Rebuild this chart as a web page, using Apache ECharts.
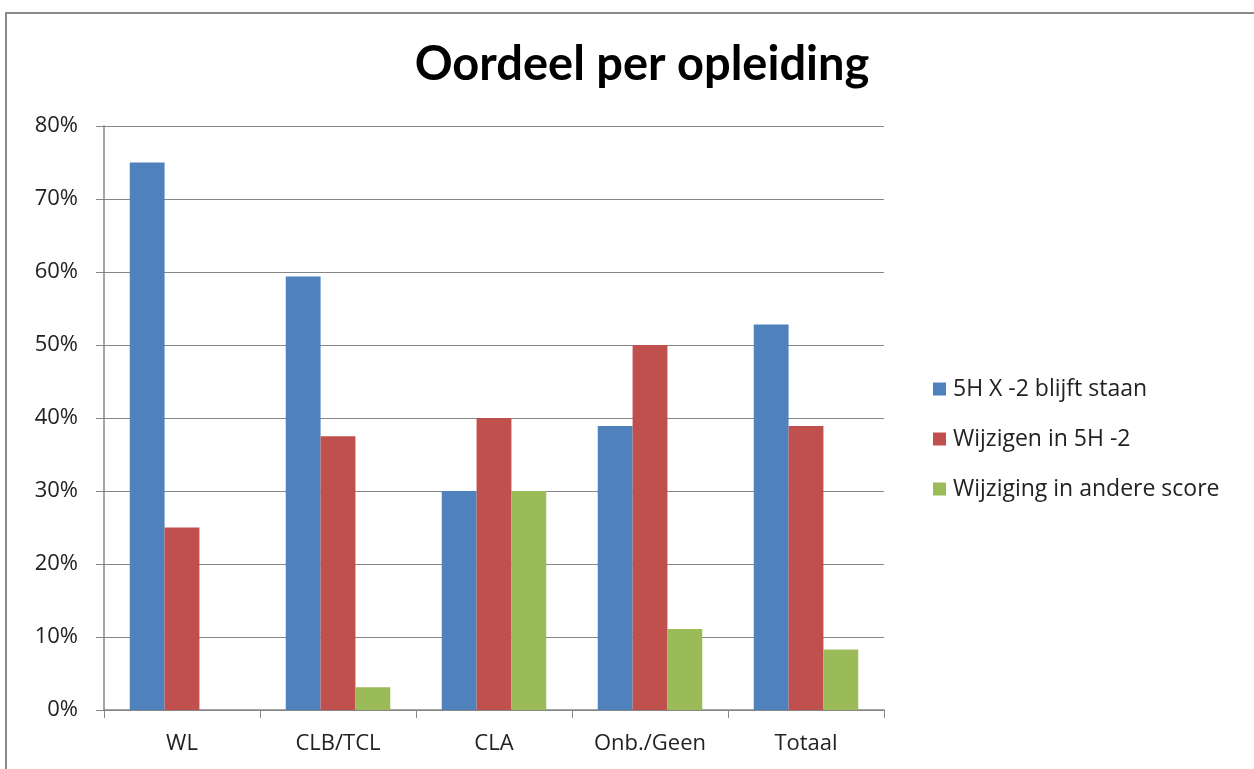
<!DOCTYPE html>
<html style="height: 100%">
<head>
    <meta charset="utf-8">
    <title>Oordeel per opleiding</title>
    <script src="https://cdn.jsdelivr.net/npm/echarts@6/dist/echarts.min.js"></script>
    <style>
        html, body { margin: 0; padding: 0; background: #fff; overflow: hidden; }
        #frame {
            position: absolute; left: 5px; top: 12px; width: 1300px; height: 800px;
            border-top: 2px solid #8a8a8a; border-left: 2px solid #8a8a8a;
        }
        #container { position: absolute; left: 0; top: 0; width: 1254px; height: 769px; }
    </style>
</head>
<body>
<div id="frame"></div>
<div id="container"></div>
<script>
    // categories and series values (percent)
    var categories = ['WL', 'CLB/TCL', 'CLA', 'Onb./Geen', 'Totaal'];
    var seriesNames = ['5H X -2 blijft staan', 'Wijzigen in 5H -2', 'Wijziging in andere score'];
    var blijftStaan = [75, 59.4, 30, 38.9, 52.8];
    var wijzigen5H = [25, 37.5, 40, 50, 38.9];
    var andereScore = [0, 3.1, 30, 11.1, 8.3];
    var colors = ['#4F81BD', '#C0504D', '#9BBB59'];

    var titleFont = 'Lato, "Open Sans", sans-serif';
    var font = '"Open Sans", Lato, sans-serif';
    var myChart = echarts.init(document.getElementById('container'));

    var option = {
        animation: false,
        title: {
            text: 'Oordeel per opleiding',
            left: 637,
            textAlign: 'center',
            top: 36,
            textStyle: { fontFamily: titleFont, fontSize: 47, fontWeight: 'bold', color: '#000' }
        },
        legend: {
            orient: 'vertical',
            left: 928,
            top: 371,
            itemGap: 24,
            itemWidth: 13,
            itemHeight: 13,
            icon: 'rect',
            data: seriesNames,
            textStyle: { fontFamily: font, fontSize: 23, lineHeight: 26, color: '#222', padding: [0, 0, 0, 2] }
        },
        grid: { left: 104, right: 370, top: 126, bottom: 59 },
        xAxis: {
            type: 'category',
            data: categories,
            axisLine: { lineStyle: { color: '#868686', width: 1.5 } },
            axisTick: { show: true, length: 8, lineStyle: { color: '#868686' } },
            axisLabel: { fontFamily: font, fontSize: 22, color: '#222', margin: 23 }
        },
        yAxis: {
            type: 'value',
            min: 0,
            max: 80,
            interval: 10,
            axisLine: { show: true, lineStyle: { color: '#868686', width: 1.5 } },
            axisTick: { show: true, length: 8, lineStyle: { color: '#868686' } },
            axisLabel: { fontFamily: font, fontSize: 22, color: '#222', margin: 26, formatter: '{value}%' },
            splitLine: { lineStyle: { color: '#868686', width: 1 } }
        },
        series: [
            { name: seriesNames[0], type: 'bar', data: blijftStaan, itemStyle: { color: colors[0] }, barGap: '0%', barCategoryGap: '33%' },
            { name: seriesNames[1], type: 'bar', data: wijzigen5H, itemStyle: { color: colors[1] } },
            { name: seriesNames[2], type: 'bar', data: andereScore, itemStyle: { color: colors[2] } }
        ]
    };
    myChart.setOption(option);
</script>
</body>
</html>
